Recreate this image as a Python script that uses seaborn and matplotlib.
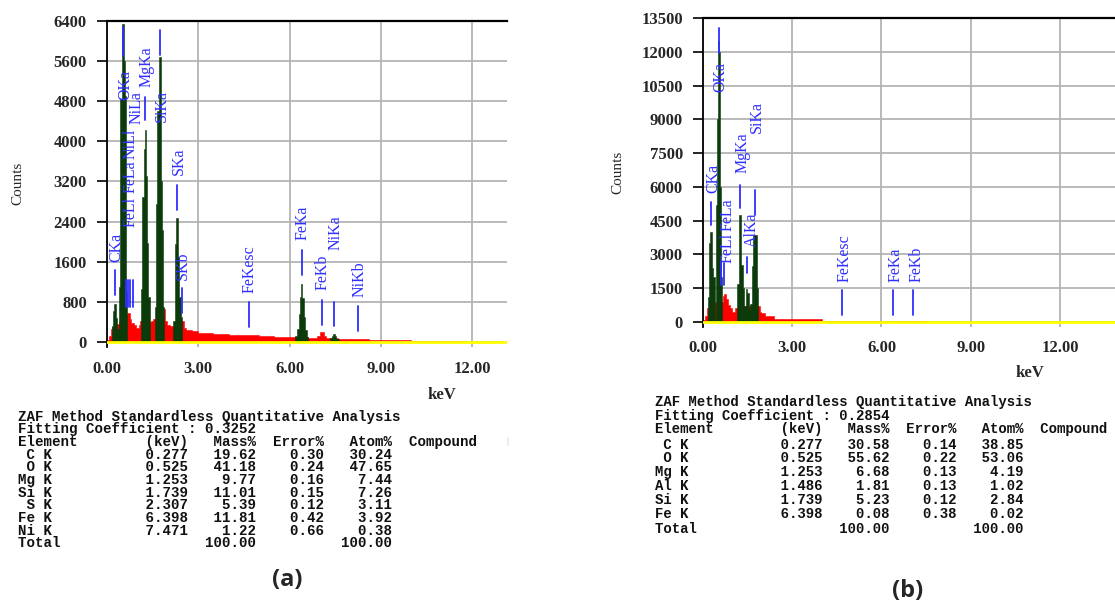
import numpy as np
import pandas as pd
import matplotlib
matplotlib.use("Agg")
import matplotlib.pyplot as plt
import seaborn as sns

sns.set_theme(style="white")
plt.rcParams["font.family"] = ["Liberation Serif", "DejaVu Serif"]

# ---------------- data: panel (a) ----------------
red_a_edges = [0.00, 0.06, 0.12, 0.18, 0.24, 0.38, 0.46, 0.60, 0.66, 0.74,
               0.80, 0.88, 0.96, 1.04, 1.10, 1.16, 1.36, 1.44, 1.52, 1.60,
               1.86, 1.90, 1.96, 2.06, 2.18, 2.44, 2.52, 2.60, 2.80, 3.00,
               3.50, 4.00, 4.50, 5.00, 5.50, 6.00, 6.20, 6.60, 6.90, 7.00,
               7.12, 7.20, 7.60, 8.00, 8.60, 9.00, 10.00, 10.90, 11.80]
red_a_counts = [40, 120, 250, 300, 350, 400, 400, 520, 580, 450,
                370, 330, 280, 330, 420, 450, 400, 420, 450, 550,
                650, 420, 340, 320, 300, 420, 280, 230, 210, 175,
                160, 145, 130, 120, 105, 100, 100, 80, 110, 190,
                110, 70, 60, 50, 35, 30, 25, 18]

green_a_edges = [0.15, 0.20, 0.24, 0.30, 0.34, 0.38,
                 0.40, 0.44, 0.48, 0.50, 0.56, 0.58, 0.61, 0.64, 0.67,
                 1.12, 1.16, 1.20, 1.24, 1.28, 1.32, 1.36, 1.40,
                 1.58, 1.62, 1.66, 1.70, 1.72, 1.76, 1.80, 1.84, 1.88,
                 2.18, 2.22, 2.26, 2.34, 2.38, 2.42, 2.48,
                 6.18, 6.24, 6.30, 6.34, 6.38, 6.42, 6.46, 6.50, 6.56, 6.62,
                 7.34, 7.40, 7.44, 7.50, 7.54, 7.62]
green_a_counts = [320, 620, 760, 480, 260, 0,
                  1100, 4850, 5000, 6350, 5600, 4900, 1500, 1000, 0,
                  1050, 2900, 3850, 4230, 3300, 1970, 900, 0,
                  700, 2760, 4600, 5260, 5680, 3200, 2230, 700, 0,
                  420, 1950, 2480, 1700, 900, 500, 0,
                  110, 250, 550, 900, 1150, 880, 500, 230, 100, 0,
                  70, 120, 150, 120, 60]

lines_a_names = ["CKa", "OKa", "FeLl", "FeLa", "NiLl", "NiLa", "MgKa", "SiKa",
                 "SKa", "SKb", "FeKesc", "FeKa", "FeKb", "NiKa", "NiKb"]
lines_a_kev = [0.277, 0.525, 0.615, 0.705, 0.743, 0.851, 1.253, 1.739,
               2.307, 2.464, 4.66, 6.398, 7.057, 7.471, 8.263]

xticks_a = [0.0, 3.0, 6.0, 9.0, 12.0]
yticks_a = [0, 800, 1600, 2400, 3200, 4000, 4800, 5600, 6400]

fit_a = "0.3252"
elem_a = [" C K", " O K", "Mg K", "Si K", " S K", "Fe K", "Ni K"]
kev_a = [0.277, 0.525, 1.253, 1.739, 2.307, 6.398, 7.471]
mass_a = [19.62, 41.18, 9.77, 11.01, 5.39, 11.81, 1.22]
err_a = [0.30, 0.24, 0.16, 0.15, 0.12, 0.42, 0.66]
atom_a = [30.24, 47.65, 7.44, 7.26, 3.11, 3.92, 0.38]

# ---------------- data: panel (b) ----------------
red_b_edges = [0.00, 0.06, 0.12, 0.20, 0.40, 0.46, 0.66, 0.72, 0.78, 0.84,
               0.90, 0.96, 1.06, 1.16, 1.90, 1.96, 2.10, 2.40, 4.00, 6.20,
               7.60, 9.20]
red_b_counts = [100, 250, 600, 800, 900, 900, 1150, 1250, 1000, 750,
                600, 450, 600, 700, 460, 380, 280, 150, 40, 30, 20]

green_b_edges = [0.17, 0.21, 0.25, 0.31, 0.35, 0.39,
                 0.43, 0.48, 0.50, 0.54, 0.58, 0.61, 0.65,
                 1.15, 1.20, 1.29, 1.34, 1.38, 1.43, 1.48, 1.53, 1.58,
                 1.64, 1.68, 1.80, 1.86,
                 6.25, 6.60]
green_b_counts = [1100, 3500, 4000, 2400, 2000, 0,
                  5200, 9000, 12500, 12000, 6000, 2000, 0,
                  1700, 4750, 2550, 1500, 700, 1450, 1300, 550, 800,
                  2500, 3850, 1500, 0,
                  40]

lines_b_names = ["CKa", "OKa", "FeLl", "FeLa", "MgKa", "AlKa", "SiKa",
                 "FeKesc", "FeKa", "FeKb"]
lines_b_kev = [0.277, 0.525, 0.615, 0.705, 1.253, 1.486, 1.739,
               4.66, 6.398, 7.057]

xticks_b = [0.0, 3.0, 6.0, 9.0, 12.0]
yticks_b = [0, 1500, 3000, 4500, 6000, 7500, 9000, 10500, 12000, 13500]

fit_b = "0.2854"
elem_b = [" C K", " O K", "Mg K", "Al K", "Si K", "Fe K"]
kev_b = [0.277, 0.525, 1.253, 1.486, 1.739, 6.398]
mass_b = [30.58, 55.62, 6.68, 1.81, 5.23, 0.08]
err_b = [0.14, 0.22, 0.13, 0.13, 0.12, 0.38]
atom_b = [38.85, 53.06, 4.19, 1.02, 2.84, 0.02]

# ---------------- layout (label placement, in data units) ----------------
# (line_low, line_high, text_x, text_bottom)
place_a = [(937, 1435, 0.32, 1595), (5700, 6280, 0.60, 4825),
           (698, 1236, 0.79, 2293), (698, 1236, 0.79, 2970),
           (698, 1236, 0.79, 3648), (698, 1236, 0.96, 4346),
           (4426, 4884, 1.31, 5084), (5722, 6220, 1.81, 4386),
           (2632, 3130, 2.37, 3329), (578, 1077, 2.50, 1236),
           (299, 797, 4.70, 977), (1336, 1834, 6.44, 2033),
           (339, 837, 7.10, 1037), (319, 797, 7.53, 1834),
           (219, 718, 8.32, 897)]
place_b = [(4307, 5329, 0.34, 5728), (11945, 13055, 0.59, 10213),
           (1643, 2620, 0.84, 2620), (1643, 2620, 0.84, 4040),
           (5062, 6083, 1.34, 6616), (2176, 2886, 1.64, 3330),
           (4751, 5861, 1.80, 8392), (311, 1421, 4.77, 1776),
           (311, 1421, 6.49, 1776), (311, 1421, 7.18, 1776)]

W, H = 1115, 604
RED = "#ff0000"
GREEN = "#0b3a0b"
YELLOW = "#ffff00"
BLUE = "#2f2fff"
GRID = "#b4b4b4"

fig = plt.figure(figsize=(W / 100, H / 100), dpi=100)
fig.patch.set_facecolor("white")


def box(x0, y0, x1, y1):
    return [x0 / W, 1 - y1 / H, (x1 - x0) / W, (y1 - y0) / H]


def spectrum(ax, edges, counts, color, z):
    e = [float(v) for v in edges]
    centers = [(a + b) / 2 for a, b in zip(e[:-1], e[1:])]
    df = pd.DataFrame({"keV": centers, "cnt": [float(c) for c in counts]})
    sns.histplot(data=df, x="keV", weights="cnt", bins=e, ax=ax, color=color,
                 element="step", fill=True, alpha=1, linewidth=0.4,
                 edgecolor=color, stat="count", zorder=z)


def panel(ax, red_e, red_c, grn_e, grn_c, names, kevs, place,
          xticks, yticks, xmax, ymin, ymax):
    ax.set_facecolor("white")
    spectrum(ax, red_e, red_c, RED, 2)
    spectrum(ax, grn_e, grn_c, GREEN, 3)
    ax.axhline(0, color=YELLOW, lw=2.0, zorder=4)
    for name, kv, (lo, hi, tx, ty) in zip(names, kevs, place):
        ax.plot([kv, kv], [lo, hi], color=BLUE, lw=1.3, zorder=5)
        ax.text(tx, ty, name, rotation=90, ha="center", va="bottom",
                color=BLUE, fontsize=11.5, zorder=6)
    ax.set_xlim(0, xmax)
    ax.set_ylim(ymin, ymax)
    ax.set_xticks(xticks)
    ax.set_xticklabels([f"{t:.2f}" for t in xticks])
    ax.set_yticks(yticks)
    ax.set_yticklabels([str(t) for t in yticks])
    ax.set_xlabel("")
    ax.set_ylabel("")
    ax.set_axisbelow(True)
    ax.grid(True, color=GRID, lw=1.3, zorder=0)
    ax.tick_params(axis="y", length=7.5, width=1.2, color="black", pad=7,
                   labelsize=12, direction="out", left=True)
    ax.tick_params(axis="x", length=0, pad=10, labelsize=12, bottom=True)
    for lab in ax.get_xticklabels() + ax.get_yticklabels():
        lab.set_fontweight("bold")
    for s in ("right", "bottom"):
        ax.spines[s].set_visible(False)
    ax.spines["top"].set_color("black")
    ax.spines["top"].set_linewidth(1.6)
    ax.spines["left"].set_color("black")
    ax.spines["left"].set_linewidth(1.3)


ax_a = fig.add_axes(box(107, 21, 507, 347))
panel(ax_a, red_a_edges, red_a_counts, green_a_edges, green_a_counts,
      lines_a_names, lines_a_kev, place_a, xticks_a, yticks_a,
      13.15, -100, 6400)

ax_b = fig.add_axes(box(703, 18, 1115, 326.5))
panel(ax_b, red_b_edges, red_b_counts, green_b_edges, green_b_counts,
      lines_b_names, lines_b_kev, place_b, xticks_b, yticks_b,
      13.85, -200, 13500)


def ftext(x, y, s, **kw):
    fig.text(x / W, 1 - y / H, s, **kw)


# axis titles
ftext(18, 183, "Counts", rotation=90, ha="center", va="center", fontsize=11)
ftext(442, 395, "keV", ha="center", va="center", fontsize=12, fontweight="bold")
ftext(618, 172, "Counts", rotation=90, ha="center", va="center", fontsize=11)
ftext(1030, 373, "keV", ha="center", va="center", fontsize=12, fontweight="bold")


def table_lines(fit, elems, kevs, mass, err, atom):
    rows = ["ZAF Method Standardless Quantitative Analysis",
            f"Fitting Coefficient : {fit}",
            "Element" + f"{'(keV)':>13}{'Mass%':>8}{'Error%':>8}{'Atom%':>8}  Compound"]
    for el, k, m, e, a in zip(elems, kevs, mass, err, atom):
        rows.append(f"{el}{k:>16.3f}{m:>8.2f}{e:>8.2f}{a:>8.2f}")
    rows.append("Total" + f"{100.0:>23.2f}" + " " * 8 + f"{100.0:>8.2f}")
    return rows


mono = dict(family=["Liberation Mono", "DejaVu Sans Mono"], fontsize=10.2,
            fontweight="bold", color="#111111", ha="left", va="center")

rows_a = table_lines(fit_a, elem_a, kev_a, mass_a, err_a, atom_a)
for i, r in enumerate(rows_a):
    ftext(18, 416.7 + i * 12.65, r, **mono)
ftext(507, 442, "|", color="#bbbbbb", fontsize=7, ha="center", va="center")

mono_b = dict(mono)
mono_b["fontsize"] = 10.1
rows_b = table_lines(fit_b, elem_b, kev_b, mass_b, err_b, atom_b)
ys_b = [401.7, 415.7, 429.3, 445, 458.3, 472.3, 485.7, 500, 514, 529]
for r, y in zip(rows_b, ys_b):
    ftext(655, y, r, **mono_b)

ftext(287, 580, "(a)", family=["Open Sans", "DejaVu Sans"], fontsize=17,
      fontweight="bold", ha="center", va="center")
ftext(908, 591, "(b)", family=["Open Sans", "DejaVu Sans"], fontsize=17,
      fontweight="bold", ha="center", va="center")

fig.savefig("out.png", dpi=100, facecolor="white")
